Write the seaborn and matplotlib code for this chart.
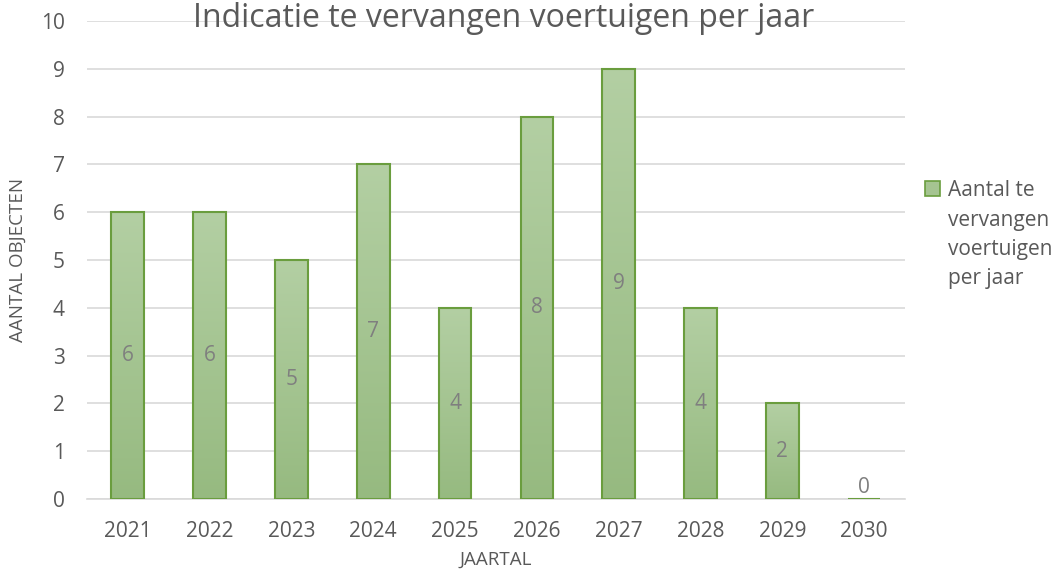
import numpy as np
import pandas as pd
import matplotlib
matplotlib.use("Agg")
import matplotlib.pyplot as plt
import seaborn as sns

# data
jaren = ["2021", "2022", "2023", "2024", "2025", "2026", "2027", "2028", "2029", "2030"]
aantal = [6, 6, 5, 7, 4, 8, 9, 4, 2, 0]

df = pd.DataFrame({"jaar": jaren, "aantal": aantal})

sns.set_style("white")
plt.rcParams['font.family'] = ['Open Sans', 'DejaVu Sans']
grijs = "#595959"

fig = plt.figure(figsize=(10.63, 5.69), dpi=100)
ax = fig.add_axes([0.0818, 0.123, 0.7696, 0.840])

sns.barplot(data=df, x="jaar", y="aantal", color="#a5c491", width=0.4,
            edgecolor="#6a9d3e", linewidth=1.5, saturation=1, ax=ax, zorder=3)

# gradient fill, light at top, darker at bottom
grad = np.linspace(0, 1, 256).reshape(-1, 1)
cmap = matplotlib.colors.LinearSegmentedColormap.from_list("g", ["#b3cfa3", "#96ba80"])
for p in ax.patches:
    x0, y0 = p.get_x(), p.get_y()
    w, h = p.get_width(), p.get_height()
    if h <= 0:
        continue
    im = ax.imshow(grad, cmap=cmap, aspect="auto", extent=[x0, x0 + w, y0, y0 + h],
                   origin="upper", zorder=3.5)
    im.set_clip_path(p)
    p.set_facecolor("none")
    p.set_zorder(4)

ax.set_xlim(-0.5, len(jaren) - 0.5)
ax.set_ylim(0, 10)
ax.set_yticks(range(0, 11))

cont = ax.containers[0]
ax.bar_label(cont, labels=[str(v) if v > 0 else "" for v in aantal], label_type="center",
             color="#7f7f7f", fontsize=15, zorder=5)
ax.bar_label(cont, labels=[str(v) if v == 0 else "" for v in aantal], label_type="edge",
             color="#7f7f7f", fontsize=15, padding=1)

ax.grid(axis="y", color="#d9d9d9", linewidth=1.2, zorder=0)
for s in ["top", "right", "left"]:
    ax.spines[s].set_visible(False)
ax.spines["bottom"].set_color("#d9d9d9")
ax.spines["bottom"].set_linewidth(1.2)
ax.tick_params(axis="both", length=0, labelsize=15, colors=grijs)
ax.tick_params(axis="x", pad=16)
ax.tick_params(axis="y", pad=16)

ax.set_xlabel("JAARTAL", color=grijs, fontsize=13.5, labelpad=6)
ax.set_ylabel("AANTAL OBJECTEN", color=grijs, fontsize=13.5, labelpad=10)
fig.text(0.474, 0.997, "Indicatie te vervangen voertuigen per jaar", ha="center", va="top",
         fontsize=23, color=grijs)

handle = matplotlib.patches.Patch(facecolor="#a5c491", edgecolor="#6a9d3e", linewidth=1.2)
leg = fig.legend([handle], ["Aantal te"], loc="center left",
                 bbox_to_anchor=(0.870, 1 - 190 / 569), frameon=False, fontsize=15,
                 labelcolor=grijs, handlelength=0.75, handleheight=0.75,
                 handletextpad=0.35, borderaxespad=0, borderpad=0)

# rest of the wrapped legend label, lined up under the first line
fig.canvas.draw()
bb = leg.get_texts()[0].get_window_extent().transformed(fig.transFigure.inverted())
for regel, y_px in zip(["vervangen", "voertuigen", "per jaar"], [226, 255, 284]):
    fig.text(bb.x0, 1 - y_px / 569, regel, ha="left", va="baseline",
             fontsize=15, color=grijs)

fig.savefig("out.png", dpi=100)
